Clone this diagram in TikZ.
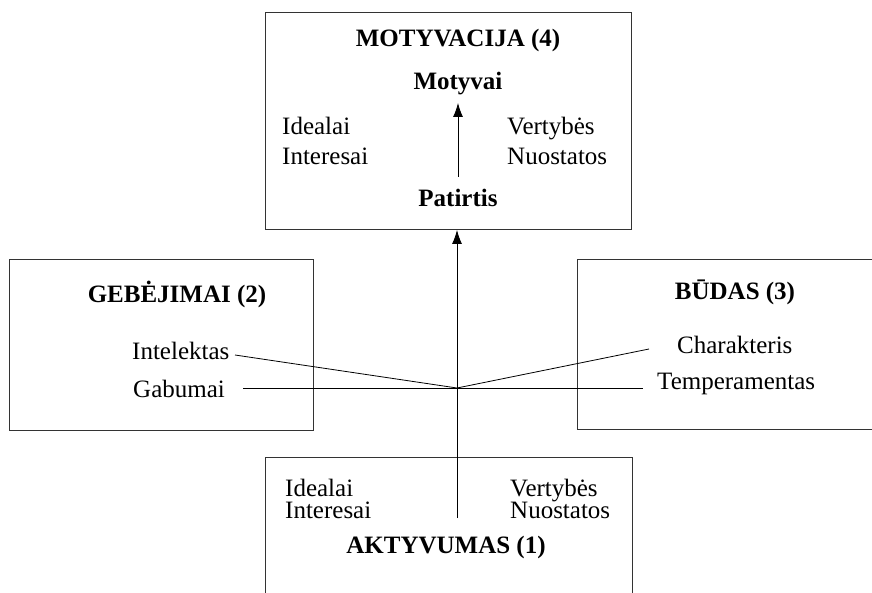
\documentclass[tikz,border=0pt]{standalone}
\usepackage{fontspec}
\setmainfont{Liberation Serif}
\usetikzlibrary{arrows.meta}
\begin{document}
\begin{tikzpicture}[x=1pt,y=-1pt,
  boxline/.style={draw=black!80,line width=0.9pt},
  frame/.style={boxline,inner sep=0pt,outer sep=0pt,anchor=north west},
  txt/.style={font=\fontsize{25}{28}\selectfont,inner sep=0pt},
  ttl/.style={font=\fontsize{25}{28}\selectfont\bfseries,inner sep=0pt,anchor=base},
  lft/.style={txt,anchor=base west},
  pairA/.style={font=\fontsize{25}{30}\selectfont,inner sep=0pt,align=left,anchor=north west},
  pairB/.style={font=\fontsize{25}{28}\selectfont,inner sep=0pt,align=left,anchor=base west},
  conn/.style={draw=black,line width=0.8pt},
  arr/.style={conn,-{Latex[length=14pt,width=10pt]}}]
\useasboundingbox (0,0) rectangle (872,593);
% boxes
\node[frame,minimum width=366pt,minimum height=217pt] (motbox) at (265,12) {};
\node[frame,minimum width=304pt,minimum height=171pt] (gebbox) at (9,259) {};
\coordinate (budtl) at (577,259);
\coordinate (budtr) at (872,259);
\coordinate (budbl) at (577,429);
\coordinate (budbr) at (872,429);
\draw[boxline] (budtr) -- (budtl) -- (budbl) -- (budbr);
\coordinate (akttl) at (265,457);
\coordinate (akttr) at (632,457);
\coordinate (aktbl) at (265,593);
\coordinate (aktbr) at (632,593);
\draw[boxline] (aktbl) -- (akttl) -- (akttr) -- (aktbr);
% MOTYVACIJA
\node[ttl] (mot) at (458,47) {MOTYVACIJA (4)};
\node[ttl] (motyvai) at (458,90) {Motyvai};
\node[ttl] (patirtis) at (458,207) {Patirtis};
\node[pairA] (ideal1) at (282,117) {Idealai\\Interesai};
\node[pairA] (vert1) at (507,117) {Vertybės\\Nuostatos};
% GEBEJIMAI
\node[ttl] (geb) at (177,302) {GEBĖJIMAI (2)};
\node[lft] (intel) at (132,359) {Intelektas};
\node[lft] (gab) at (133,397) {Gabumai};
% BUDAS
\node[ttl] (bud) at (735,300) {BŪDAS (3)};
\node[lft] (char) at (677,353) {Charakteris};
\node[lft] (temp) at (657,389) {Temperamentas};
% AKTYVUMAS
\node[pairB] (ideal2) at (285,518) {Idealai\\[-6pt]Interesai};
\node[pairB] (vert2) at (510,518) {Vertybės\\[-6pt]Nuostatos};
\node[ttl] (akt) at (446,553) {AKTYVUMAS (1)};
% connectors
\coordinate (hub) at (457,388);
\coordinate (intelend) at (235,355);
\coordinate (gabend) at (243,388);
\coordinate (tempend) at (643,388);
\coordinate (charend) at (649,349);
\coordinate (vstart) at (457,518);
\coordinate (vtip) at (457,230);
\coordinate (istart) at (458,177);
\coordinate (itip) at (458,103);
\draw[conn] (intelend) -- (hub) -- (charend);
\draw[conn] (gabend) -- (tempend);
\draw[arr] (vstart) -- (vtip);
\draw[arr] (istart) -- (itip);
\end{tikzpicture}
\end{document}
